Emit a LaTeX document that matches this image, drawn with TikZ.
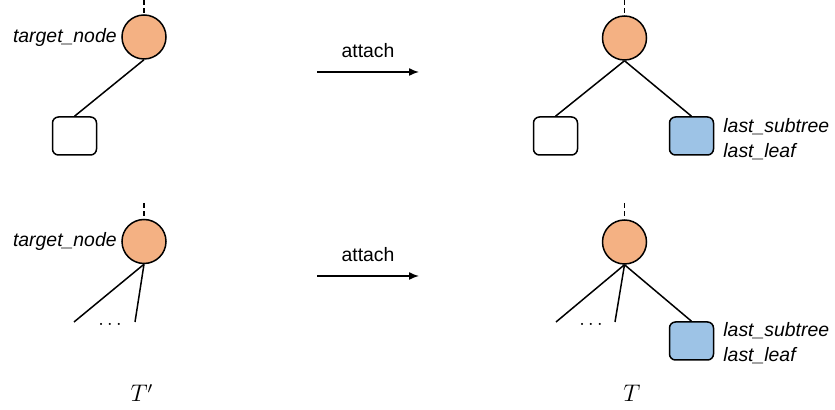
\documentclass[tikz,border=0pt]{standalone}
\usepackage{fontspec}
\setsansfont{Liberation Sans}
\usetikzlibrary{arrows.meta}
\definecolor{NodeOrange}{HTML}{F4B183}
\definecolor{LeafBlue}{HTML}{9DC3E6}

\tikzset{
  tnode/.style={circle, draw=black, line width=0.75pt, fill=NodeOrange, minimum size=22pt, inner sep=0pt},
  leaf/.style={draw=black, line width=0.75pt, rounded corners=3pt, minimum width=22pt, minimum height=19pt, inner sep=0pt},
  lbl/.style={font=\sffamily\itshape\fontsize{9.7}{12}\selectfont, inner sep=0pt},
  stub/.style={line width=0.9pt, dash pattern=on 2.5pt off 1.7pt},
  edge/.style={line width=0.75pt}
}

\begin{document}
\begin{tikzpicture}[x=0.5pt, y=-0.5pt]
  \useasboundingbox (0,0) rectangle (835,410);

  % top row, before
  \node[tnode] (ra) at (144,37) {};
  \coordinate (pa) at (144,0);
  \draw[stub] (pa) -- (ra.north);
  \node[lbl, anchor=base east] (tna) at (117,43) {target\_node};
  \node[leaf] (la) at (74.5,136) {};
  \draw[edge] (ra.south) -- (la.north);

  % top arrow
  \coordinate (aa) at (317,72);
  \coordinate (ab) at (419,72);
  \draw[edge, -{Latex[length=5pt, width=4pt]}] (aa) -- (ab) node[midway, above=7pt, lbl, font=\sffamily\fontsize{9.7}{12}\selectfont] (ta) {attach};

  % top row, after
  \node[tnode] (rb) at (624.5,38) {};
  \coordinate (pb) at (624.5,0);
  \draw[stub] (pb) -- (rb.north);
  \node[leaf] (lb) at (555.5,136) {};
  \node[leaf, fill=LeafBlue] (nb) at (691.5,136) {};
  \draw[edge] (rb.south) -- (lb.north);
  \draw[edge] (rb.south) -- (nb.north);
  \node[lbl, anchor=base west] (sb) at (723,133) {last\_subtree};
  \node[lbl, anchor=base west] (fb) at (723,158) {last\_leaf};

  % bottom row, before
  \node[tnode] (rc) at (144,241.5) {};
  \coordinate (pc) at (144,203);
  \draw[stub] (pc) -- (rc.north);
  \node[lbl, anchor=base east] (tnc) at (117,247) {target\_node};
  \coordinate (c1) at (74,322);
  \coordinate (c2) at (135,322);
  \draw[edge] (rc.south) -- (c1);
  \draw[edge] (rc.south) -- (c2);
  \node[inner sep=0pt, anchor=base] (dc) at (110,326) {$\ldots$};

  % bottom arrow
  \coordinate (ba) at (317,276);
  \coordinate (bb) at (419,276);
  \draw[edge, -{Latex[length=5pt, width=4pt]}] (ba) -- (bb) node[midway, above=7pt, lbl, font=\sffamily\fontsize{9.7}{12}\selectfont] (tb) {attach};

  % bottom row, after
  \node[tnode] (rd) at (624.5,242) {};
  \coordinate (pd) at (624.5,203);
  \draw[stub] (pd) -- (rd.north);
  \coordinate (d1) at (556,322);
  \coordinate (d2) at (615,322);
  \node[leaf, fill=LeafBlue] (nd) at (691.5,341) {};
  \draw[edge] (rd.south) -- (d1);
  \draw[edge] (rd.south) -- (d2);
  \draw[edge] (rd.south) -- (nd.north);
  \node[inner sep=0pt, anchor=base] (dd) at (591,326) {$\ldots$};
  \node[lbl, anchor=base west] (sd) at (723,337) {last\_subtree};
  \node[lbl, anchor=base west] (fd) at (723,362) {last\_leaf};

  % tree names
  \node[font=\fontsize{12}{14}\selectfont] (tp) at (142,393) {$T'$};
  \node[font=\fontsize{12}{14}\selectfont] (tt) at (632,393) {$T$};
\end{tikzpicture}
\end{document}
